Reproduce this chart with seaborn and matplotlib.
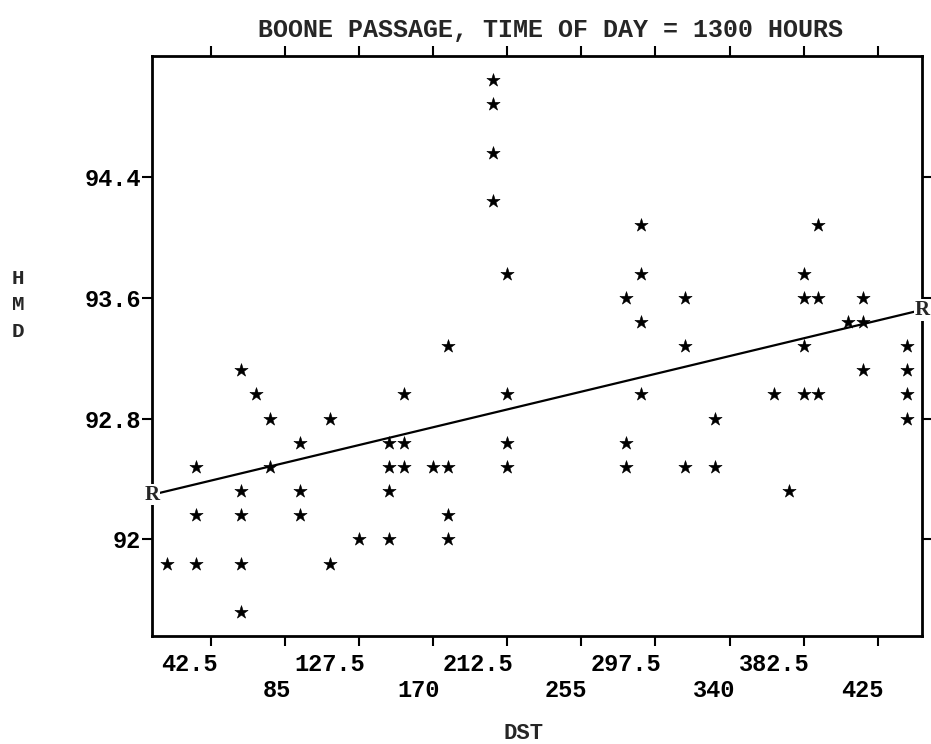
import matplotlib.pyplot as plt
import matplotlib.transforms as mtransforms
import pandas as pd
import seaborn as sns

# values
dst = [17, 34, 34, 34, 59.5, 59.5, 59.5, 59.5, 59.5, 68, 76.5, 76.5,
       93.5, 93.5, 93.5, 110.5, 110.5, 127.5, 144.5, 144.5, 144.5, 144.5,
       153, 153, 153, 170, 178.5, 178.5, 178.5, 178.5, 204, 204, 204, 204,
       212.5, 212.5, 212.5, 212.5, 280.5, 280.5, 280.5, 289, 289, 289, 289,
       314.5, 314.5, 314.5, 331.5, 331.5, 365.5, 374, 382.5, 382.5, 382.5,
       382.5, 391, 391, 391, 408, 416.5, 416.5, 416.5, 442, 442, 442, 442]
hmd = [91.84, 91.84, 92.16, 92.48, 91.52, 91.84, 92.16, 92.32, 93.12, 92.96,
       92.80, 92.48, 92.64, 92.32, 92.16, 91.84, 92.80, 92.00, 92.00, 92.32,
       92.48, 92.64, 92.48, 92.64, 92.96, 92.48, 92.48, 92.16, 92.00, 93.28,
       95.04, 94.88, 94.56, 94.24, 93.76, 92.96, 92.64, 92.48, 92.64, 92.48,
       93.60, 93.44, 93.76, 94.08, 92.96, 92.48, 93.60, 93.28, 92.80, 92.48,
       92.96, 92.32, 93.76, 93.60, 93.28, 92.96, 92.96, 93.60, 94.08, 93.44,
       93.60, 93.44, 93.12, 93.28, 93.12, 92.96, 92.80]

x_ticks = [42.5, 85, 127.5, 170, 212.5, 255, 297.5, 340, 382.5, 425]
x_labels = ['42.5', '85', '127.5', '170', '212.5', '255', '297.5', '340', '382.5', '425']
y_ticks = [92, 92.8, 93.6, 94.4]
y_labels = ['92', '92.8', '93.6', '94.4']

df = pd.DataFrame({'DST': dst, 'HMD': hmd})

sns.set_theme(style='ticks')
plt.rcParams['font.family'] = ['Liberation Mono', 'DejaVu Sans Mono']
plt.rcParams['font.weight'] = 'bold'

fig = plt.figure(figsize=(9.31, 7.44), dpi=100)
ax = fig.add_axes([152 / 931, 108 / 744, 770 / 931, 580 / 744])
ax.set_xlim(8.5, 450.5)
ax.set_ylim(91.36, 95.2)

# fitted line across the whole frame, then the stars
sns.regplot(data=df, x='DST', y='HMD', ax=ax, scatter=False, ci=None,
            truncate=False, line_kws={'color': 'black', 'lw': 1.6})
sns.scatterplot(data=df, x='DST', y='HMD', ax=ax, marker='*', s=100,
                color='black', edgecolor='black', linewidth=0.4, zorder=3)
ax.set_xlim(8.5, 450.5)
ax.set_ylim(91.36, 95.2)

# "R" at both ends of the regression line
xs, ys = ax.lines[0].get_data()
for xe, ye in [(xs[0], ys[0]), (xs[-1], ys[-1])]:
    ax.text(xe, ye, 'R', ha='center', va='center', fontsize=15,
            family='Liberation Serif', fontweight='bold', clip_on=False,
            zorder=5, bbox=dict(fc='white', ec='none', pad=0.4))

for side in ['top', 'bottom', 'left', 'right']:
    ax.spines[side].set_visible(True)
    ax.spines[side].set_linewidth(2)
    ax.spines[side].set_color('black')

ax.set_xticks(x_ticks, x_labels)
ax.set_yticks(y_ticks, y_labels)
ax.tick_params(axis='both', direction='out', length=7, width=1.5,
               labelsize=17, top=True, right=True, labeltop=False,
               labelright=False, color='black', labelcolor='black')
ax.tick_params(axis='y', pad=1)

# staggered x labels, right-aligned near the tick
for i, t in enumerate(ax.xaxis.get_major_ticks()):
    t.set_pad(5 if i % 2 == 0 else 24)
    t.label1.set_ha('right')
    t.label1.set_transform(t.label1.get_transform() +
                           mtransforms.ScaledTranslation(0.06, 0, fig.dpi_scale_trans))

ax.set_xlabel('DST', fontsize=16, fontweight='bold')
ax.xaxis.set_label_coords(0.483, -0.15)
ax.set_ylabel('H\nM\nD', rotation=0, fontsize=15, fontweight='bold',
              ha='center', va='center', linespacing=1.5)
ax.yaxis.set_label_coords(-0.174, 0.571)

ax.set_title('BOONE PASSAGE, TIME OF DAY = 1300 HOURS', fontsize=18,
             fontweight='bold', x=0.517, y=1.045, va='center', pad=0)

fig.savefig('out.png', dpi=100, facecolor='white')
